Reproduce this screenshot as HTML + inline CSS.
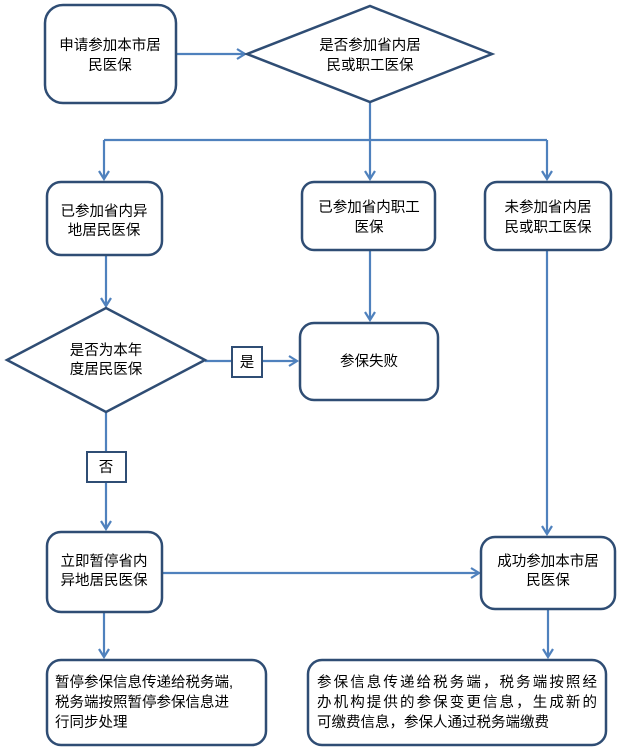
<!DOCTYPE html>
<html><head><meta charset="utf-8"><style>
html,body{margin:0;padding:0;background:#fff;}
svg{display:block;}
text{font-family:"Liberation Sans","Noto Sans CJK SC",sans-serif;font-size:14.5px;fill:#000;}
</style></head><body>
<svg width="620" height="750" viewBox="0 0 620 750" xmlns="http://www.w3.org/2000/svg">
<defs>
<marker id="ar" markerWidth="12" markerHeight="12" refX="9" refY="6" orient="auto" markerUnits="userSpaceOnUse">
<path d="M1,1 L9,6 L1,11" fill="none" stroke="#4f81bd" stroke-width="2.2"/>
</marker>
</defs>
<g fill="none" stroke="#4f81bd" stroke-width="2.2">
<line x1="177" y1="54" x2="245" y2="54" marker-end="url(#ar)"/>
<line x1="370" y1="102" x2="370" y2="140"/>
<line x1="104" y1="140" x2="547" y2="140"/>
<line x1="104" y1="140" x2="104" y2="179" marker-end="url(#ar)"/>
<line x1="370" y1="140" x2="370" y2="179" marker-end="url(#ar)"/>
<line x1="547" y1="140" x2="547" y2="179" marker-end="url(#ar)"/>
<line x1="106" y1="256" x2="106" y2="306" marker-end="url(#ar)"/>
<line x1="370" y1="251" x2="370" y2="320" marker-end="url(#ar)"/>
<line x1="205" y1="361" x2="297" y2="361" marker-end="url(#ar)"/>
<line x1="106" y1="412" x2="106" y2="529" marker-end="url(#ar)"/>
<line x1="547" y1="251" x2="547" y2="534" marker-end="url(#ar)"/>
<line x1="163" y1="573" x2="479" y2="573" marker-end="url(#ar)"/>
<line x1="104" y1="613" x2="104" y2="657" marker-end="url(#ar)"/>
<line x1="548" y1="610" x2="548" y2="657" marker-end="url(#ar)"/>
</g>
<g fill="#fff" stroke="#2f4d74" stroke-width="2.5">
<rect x="45" y="5" width="131" height="98" rx="18"/>
<polygon points="247,54 370,6 492,54 370,102"/>
<rect x="47" y="182" width="115" height="73" rx="14"/>
<rect x="302" y="182" width="133" height="68" rx="12"/>
<rect x="485" y="182" width="126" height="68" rx="12"/>
<polygon points="7,360 106,308 205,360 106,412"/>
<rect x="300" y="323" width="138" height="77" rx="14"/>
<rect x="47" y="532" width="115" height="80" rx="14"/>
<rect x="481" y="537" width="134" height="72" rx="14"/>
<rect x="47" y="660" width="219" height="85" rx="14"/>
<rect x="308" y="660" width="298" height="85" rx="14"/>
</g>
<g fill="#fff" stroke="#2f4d74" stroke-width="2">
<rect x="232" y="347" width="30" height="30"/>
<rect x="87" y="452" width="39" height="30"/>
</g>
<g text-anchor="middle">
<text x="110" y="50">申请参加本市居</text><text x="110" y="70">民医保</text>
<text x="370" y="50">是否参加省内居</text><text x="370" y="70">民或职工医保</text>
<text x="104" y="216">已参加省内异</text><text x="104" y="235">地居民医保</text>
<text x="369" y="212">已参加省内职工</text><text x="369" y="232">医保</text>
<text x="548" y="212">未参加省内居</text><text x="548" y="232">民或职工医保</text>
<text x="106" y="355">是否为本年</text><text x="106" y="374">度居民医保</text>
<text x="247" y="367">是</text>
<text x="369" y="366">参保失败</text>
<text x="106" y="472">否</text>
<text x="104" y="566">立即暂停省内</text><text x="104" y="585">异地居民医保</text>
<text x="548" y="566">成功参加本市居</text><text x="548" y="585">民医保</text>
</g>
<g>
<text x="55" y="687">暂停参保信息传递给税务端,</text>
<text x="55" y="707">税务端按照暂停参保信息进</text>
<text x="55" y="727">行同步处理</text>
<text x="317" y="687" textLength="280">参保信息传递给税务端，税务端按照经</text>
<text x="317" y="707" textLength="280">办机构提供的参保变更信息，生成新的</text>
<text x="317" y="727">可缴费信息，参保人通过税务端缴费</text>
</g>
</svg>
</body></html>
